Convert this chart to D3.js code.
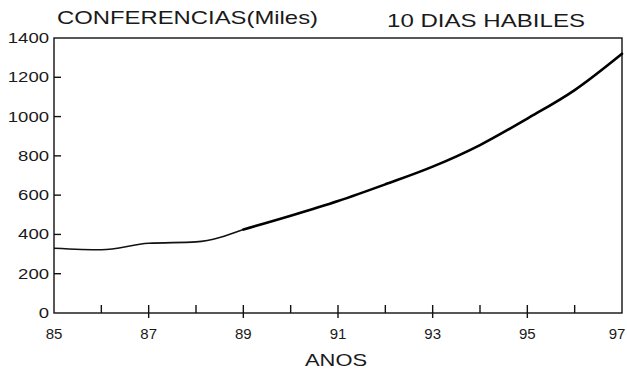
<!DOCTYPE html>
<html>
<head>
<meta charset="utf-8">
<script src="https://cdn.jsdelivr.net/npm/d3@7.9.0/dist/d3.min.js"></script>
<style>
  html, body { margin: 0; padding: 0; background: #fff; }
  svg { display: block; }
  text { font-family: "Liberation Sans", Arial, sans-serif; fill: #1a1a1a; }
</style>
</head>
<body>
<svg id="chart" width="627" height="372"></svg>
<script>
const years = [85, 86, 87, 88, 89, 90, 91, 92, 93, 94, 95, 96, 97];
const calls = [330, 322, 355, 362, 425, 495, 570, 655, 745, 855, 990, 1135, 1320];
const yTicks = [0, 200, 400, 600, 800, 1000, 1200, 1400];
const xLabels = [85, 87, 89, 91, 93, 95, 97];
const title = "CONFERENCIAS(Miles)";
const subtitle = "10 DIAS HABILES";
const xTitle = "ANOS";

const svg = d3.select("#chart");
const margin = { left: 54, right: 5, top: 38, bottom: 59 };
const width = 627, height = 372;

const x = d3.scaleLinear()
  .domain([85, 97])
  .range([margin.left, width - margin.right]);
const y = d3.scaleLinear()
  .domain([0, 1400])
  .range([height - margin.bottom, margin.top]);

// frame
svg.append("rect")
  .attr("x", x(85)).attr("y", y(1400))
  .attr("width", x(97) - x(85)).attr("height", y(0) - y(1400))
  .attr("fill", "none").attr("stroke", "#111").attr("stroke-width", 1.4);

// y ticks (inward) + labels
const yAxis = svg.append("g");
yAxis.selectAll("line")
  .data(yTicks.slice(1, -1))
  .join("line")
  .attr("x1", x(85)).attr("x2", x(85) + 7)
  .attr("y1", (d) => y(d)).attr("y2", (d) => y(d))
  .attr("stroke", "#111").attr("stroke-width", 1.4);
yAxis.selectAll("text")
  .data(yTicks)
  .join("text")
  .attr("x", x(85) - 5)
  .attr("y", (d) => y(d) + 5)
  .attr("text-anchor", "end")
  .attr("font-size", 14)
  .attr("textLength", (d) => String(d).length * 10.3)
  .attr("lengthAdjust", "spacingAndGlyphs")
  .text((d) => d);

// x ticks: every year, labelled every second
const xAxis = svg.append("g");
xAxis.selectAll("line")
  .data(years.slice(1, -1))
  .join("line")
  .attr("x1", (d) => x(d)).attr("x2", (d) => x(d))
  .attr("y1", (d) => y(0) - 8)
  .attr("y2", (d) => (xLabels.includes(d) ? y(0) + 5 : y(0)))
  .attr("stroke", "#111").attr("stroke-width", 1.4);
xAxis.selectAll("text")
  .data(xLabels)
  .join("text")
  .attr("x", (d) => Math.min(x(d), width - 10))
  .attr("y", y(0) + 26)
  .attr("text-anchor", "middle")
  .attr("font-size", 15)
  .text((d) => d);

// series
const points = years.map((yr, i) => ({ yr, v: calls[i] }));
const line = d3.line()
  .x((d) => x(d.yr))
  .y((d) => y(d.v))
  .curve(d3.curveMonotoneX);
const split = years.indexOf(89);
svg.append("path")
  .datum(points.slice(0, split + 1))
  .attr("d", line)
  .attr("fill", "none").attr("stroke", "#111").attr("stroke-width", 1.6);
svg.append("path")
  .datum(points.slice(split))
  .attr("d", line)
  .attr("fill", "none").attr("stroke", "#000").attr("stroke-width", 2.6)
  .attr("stroke-linecap", "round");

// titles
svg.append("text")
  .attr("x", 57).attr("y", 24)
  .attr("font-size", 19)
  .attr("textLength", 261).attr("lengthAdjust", "spacingAndGlyphs")
  .text(title);
svg.append("text")
  .attr("x", 387).attr("y", 27)
  .attr("font-size", 19)
  .attr("textLength", 198).attr("lengthAdjust", "spacingAndGlyphs")
  .text(subtitle);
svg.append("text")
  .attr("x", 305).attr("y", 366)
  .attr("font-size", 17)
  .attr("textLength", 62).attr("lengthAdjust", "spacingAndGlyphs")
  .text(xTitle);
</script>
</body>
</html>
